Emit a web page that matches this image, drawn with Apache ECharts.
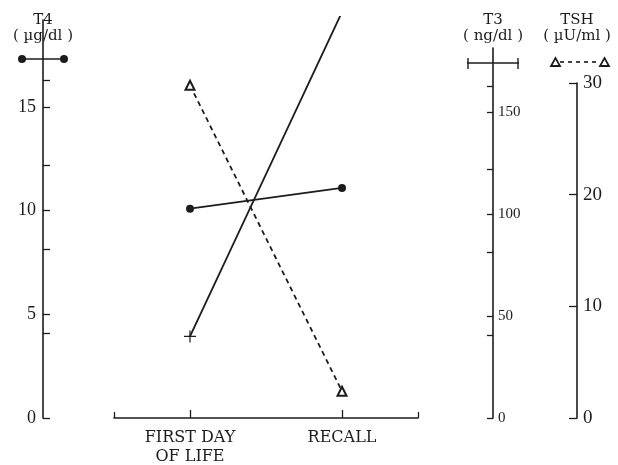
<!DOCTYPE html>
<html>
<head>
<meta charset="utf-8">
<title>T4, T3 and TSH: first day of life vs recall</title>
<script src="https://cdn.jsdelivr.net/npm/echarts@6.0.0/dist/echarts.min.js"></script>
<style>
  html, body { margin: 0; padding: 0; background: #fff; }
  #chart { width: 618px; height: 465px; }
</style>
</head>
<body>
<div id="chart"></div>
<script>
// data
const categories = ['FIRST DAY\nOF LIFE', 'RECALL']
const t4Values = [10.1, 11.1]   // µg/dl
const t3Values = [40, 199]      // ng/dl (recall runs off the top)
const tshValues = [29.8, 2.4]   // µU/ml

// tick labels / tick marks on the three scales
const t4Labels = [0, 5, 10, 15]
const t4Ticks = [0, 4.07, 5, 8.14, 10, 12.21, 15, 16.28]
const t3Labels = [0, 50, 100, 150]
const t3Ticks = [0, 40.7, 50, 81.4, 100, 122.1, 150, 162.8]
const tshLabels = [0, 10, 20, 30]

const CH = 465
const BOTTOM = 47
const ZERO_Y = CH - BOTTOM

const plotTop = 17
const t4Top = 20
const t3Top = 48
const tshTop = 83

// pixels per unit on each scale, all share the same zero line
const T4_PX = 20.73
const T3_PX = 2.04
const TSH_PX = (ZERO_Y - tshTop) / 30

const INK = '#1c1c1c'
const SERIF = 'Liberation Serif'
const SERIF2 = 'DejaVu Serif'

function maxFor(top, px) {
  return (ZERO_Y - top) / px
}

const chart = echarts.init(document.getElementById('chart'), null, { renderer: 'canvas' })

const hiddenX = i => ({ gridIndex: i, type: 'value', show: false })

function visibleY(gridIndex, opts) {
  return Object.assign({
    gridIndex: gridIndex,
    type: 'value',
    position: 'left',
    min: 0,
    splitLine: { show: false },
    axisLine: { show: true, lineStyle: { color: INK, width: 1.6 } },
    nameLocation: 'end',
    nameTextStyle: {
      fontFamily: SERIF2,
      fontSize: 15,
      color: INK,
      lineHeight: 16,
      align: 'center'
    }
  }, opts)
}

chart.setOption({
  backgroundColor: '#fff',
  animation: false,
  grid: [
    { left: 114, right: 618 - 418, top: plotTop, bottom: BOTTOM, outerBoundsMode: 'none' },
    { left: 43, width: 1, top: t4Top, bottom: BOTTOM, outerBoundsMode: 'none' },
    { left: 493, width: 1, top: t3Top, bottom: BOTTOM, outerBoundsMode: 'none' },
    { left: 577, width: 1, top: tshTop, bottom: BOTTOM, outerBoundsMode: 'none' }
  ],
  xAxis: [
    {
      gridIndex: 0,
      type: 'category',
      position: 'bottom',
      data: categories,
      boundaryGap: true,
      axisLine: { lineStyle: { color: INK, width: 1.6 } },
      axisTick: { show: true, interval: 0, alignWithLabel: true, inside: true, length: 8, lineStyle: { color: INK, width: 1.3 } },
      axisLabel: { fontFamily: SERIF2, fontSize: 16, color: INK, margin: 10, lineHeight: 19 }
    },
    {
      // only the end ticks of the baseline
      gridIndex: 0,
      type: 'category',
      position: 'bottom',
      data: ['', ''],
      boundaryGap: false,
      axisLine: { show: false },
      axisTick: { show: true, interval: 0, inside: true, length: 6, lineStyle: { color: INK, width: 1.3 } },
      axisLabel: { show: false }
    },
    hiddenX(1),
    hiddenX(2),
    hiddenX(3)
  ],
  yAxis: [
    // scales used by the series (hidden)
    { gridIndex: 0, type: 'value', show: false, min: 0, max: maxFor(plotTop, T4_PX) },
    { gridIndex: 0, type: 'value', show: false, min: 0, max: maxFor(plotTop, T3_PX) },
    { gridIndex: 0, type: 'value', show: false, min: 0, max: maxFor(plotTop, TSH_PX) },
    // T4 axis
    visibleY(1, {
      max: maxFor(t4Top, T4_PX),
      name: 'T4\n( µg/dl )',
      nameGap: -24,
      axisTick: { show: true, inside: true, length: 7, customValues: t4Ticks, lineStyle: { color: INK, width: 1.3 } },
      axisLabel: { customValues: t4Labels, fontFamily: SERIF, fontSize: 18, color: INK, margin: 7 }
    }),
    // T3 axis
    visibleY(2, {
      max: maxFor(t3Top, T3_PX),
      name: 'T3\n( ng/dl )',
      nameGap: 4,
      axisTick: { show: true, inside: false, length: 6, customValues: t3Ticks, lineStyle: { color: INK, width: 1.3 } },
      axisLabel: { inside: true, customValues: t3Labels, fontFamily: SERIF, fontSize: 15, color: INK, margin: 5 }
    }),
    // TSH axis
    visibleY(3, {
      max: 30,
      name: 'TSH\n( µU/ml )',
      nameGap: 39,
      axisTick: { show: true, inside: false, length: 8, customValues: tshLabels, lineStyle: { color: INK, width: 1.3 } },
      axisLabel: { inside: true, customValues: tshLabels, fontFamily: SERIF, fontSize: 19, color: INK, margin: 6 }
    })
  ],
  series: [
    {
      name: 'T4',
      type: 'line',
      xAxisIndex: 0,
      yAxisIndex: 0,
      data: t4Values,
      symbol: 'circle',
      symbolSize: 8,
      itemStyle: { color: INK },
      lineStyle: { color: INK, width: 1.8 }
    },
    {
      name: 'T3',
      type: 'line',
      xAxisIndex: 0,
      yAxisIndex: 1,
      data: t3Values,
      clip: true,
      symbol: 'path://M0,5.4H12V6.6H0Z M5.4,0H6.6V12H5.4Z',
      symbolSize: 12,
      itemStyle: { color: INK },
      lineStyle: { color: INK, width: 1.8 }
    },
    {
      name: 'TSH',
      type: 'line',
      xAxisIndex: 0,
      yAxisIndex: 2,
      data: tshValues,
      symbol: 'triangle',
      symbolSize: 9,
      itemStyle: { color: '#fff', borderColor: INK, borderWidth: 2 },
      lineStyle: { color: INK, width: 1.8, type: [5, 4] }
    }
  ],
  // key samples drawn across each axis, as in the original figure
  graphic: [
    {
      type: 'group',
      children: [
        { type: 'line', shape: { x1: 22, y1: 59, x2: 64, y2: 59 }, style: { stroke: INK, lineWidth: 1.6 } },
        { type: 'circle', shape: { cx: 22, cy: 59, r: 4 }, style: { fill: INK } },
        { type: 'circle', shape: { cx: 64, cy: 59, r: 4 }, style: { fill: INK } }
      ]
    },
    {
      type: 'group',
      children: [
        { type: 'line', shape: { x1: 467, y1: 63, x2: 519, y2: 63 }, style: { stroke: INK, lineWidth: 1.6 } },
        { type: 'line', shape: { x1: 468, y1: 58, x2: 468, y2: 69 }, style: { stroke: INK, lineWidth: 1.4 } },
        { type: 'line', shape: { x1: 518, y1: 58, x2: 518, y2: 69 }, style: { stroke: INK, lineWidth: 1.4 } }
      ]
    },
    {
      type: 'group',
      children: [
        { type: 'line', shape: { x1: 560, y1: 62, x2: 600, y2: 62 }, style: { stroke: INK, lineWidth: 1.6, lineDash: [4, 4] } },
        { type: 'polygon', shape: { points: [[551, 66], [560, 66], [555.5, 58]] }, style: { fill: '#fff', stroke: INK, lineWidth: 1.8 } },
        { type: 'polygon', shape: { points: [[600, 66], [609, 66], [604.5, 58]] }, style: { fill: '#fff', stroke: INK, lineWidth: 1.8 } }
      ]
    }
  ]
})

window.addEventListener('resize', () => chart.resize())
</script>
</body>
</html>
